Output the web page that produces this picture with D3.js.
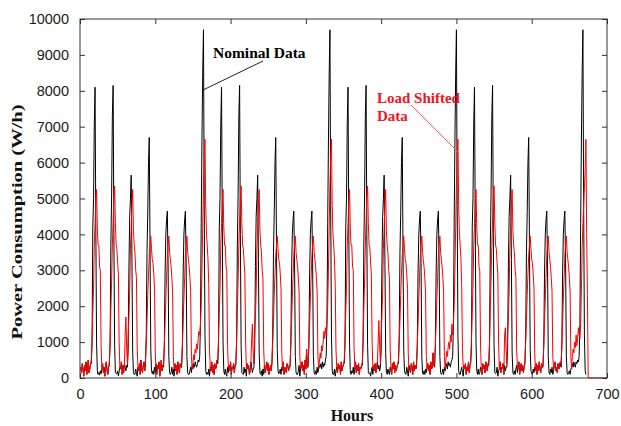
<!DOCTYPE html>
<html lang="en">

<head>
    <meta charset="UTF-8">
    <title>Power Consumption</title>
    <script src="https://unpkg.com/d3@7.8.5/dist/d3.min.js"></script>
    <style>
        * {
            margin: 0;
            padding: 0;
            box-sizing: border-box;
        }

        body {
            background: #fff;
        }

        svg {
            display: block;
        }
    </style>
</head>

<body>
    <svg class="cc" width="621" height="426"></svg>
    <script>
        // 坐标轴刻度
        const xTicks = [0, 100, 200, 300, 400, 500, 600, 700]
        const yTicks = [0, 1000, 2000, 3000, 4000, 5000, 6000, 7000, 8000, 9000, 10000]

        // Nominal data, one row per day (24 hours)
        const nominalDays = [
            [300, 150, 400, 250, 50, 350, 200, 450, 100, 300, 500, 150, 250, 400, 400, 900, 4200, 5000, 7100, 8100, 4300, 1000, 200, 100],
            [150, 80, 200, 120, 250, 400, 150, 300, 50, 350, 450, 200, 100, 300, 350, 1000, 3700, 5100, 7300, 8150, 4000, 900, 150, 120],
            [120, 200, 60, 180, 300, 250, 450, 100, 350, 150, 400, 300, 200, 350, 300, 800, 3100, 4500, 5000, 5650, 3300, 700, 150, 100],
            [100, 250, 150, 50, 300, 200, 400, 100, 500, 250, 150, 350, 450, 200, 400, 1200, 3500, 4600, 6000, 6700, 3700, 800, 200, 120],
            [200, 100, 300, 150, 400, 100, 350, 250, 450, 50, 300, 500, 200, 350, 300, 900, 2900, 4000, 4400, 4650, 3200, 600, 150, 100],
            [150, 300, 100, 250, 50, 400, 200, 350, 100, 450, 250, 150, 400, 300, 300, 900, 2900, 4000, 4400, 4650, 3200, 600, 150, 100],
            [100, 200, 300, 150, 350, 250, 400, 300, 450, 350, 300, 400, 500, 450, 600, 1500, 4300, 6600, 8500, 9700, 4800, 1200, 200, 100],
            [150, 100, 250, 50, 300, 200, 450, 150, 350, 100, 400, 250, 300, 500, 400, 900, 4200, 5000, 7100, 8100, 4300, 1000, 200, 100],
            [250, 100, 50, 300, 150, 350, 200, 450, 100, 300, 250, 400, 150, 350, 350, 1000, 3700, 5100, 7300, 8150, 4000, 900, 150, 120],
            [100, 300, 150, 250, 50, 400, 250, 350, 100, 200, 450, 300, 150, 250, 300, 800, 3100, 4500, 5000, 5650, 3300, 700, 150, 100],
            [200, 50, 250, 100, 350, 150, 300, 450, 200, 400, 100, 250, 350, 200, 400, 1200, 3500, 4600, 6000, 6700, 3700, 800, 200, 120],
            [150, 250, 100, 300, 200, 450, 100, 300, 250, 150, 400, 350, 200, 300, 300, 900, 2900, 4000, 4400, 4650, 3200, 600, 150, 100],
            [100, 200, 350, 50, 250, 300, 450, 200, 350, 100, 500, 250, 800, 300, 300, 900, 2900, 4000, 4400, 4650, 3200, 600, 150, 100],
            [200, 100, 300, 150, 250, 350, 300, 400, 250, 450, 300, 400, 350, 500, 600, 1500, 4300, 6600, 8500, 9700, 4800, 1200, 200, 100],
            [100, 250, 50, 200, 300, 150, 400, 250, 350, 100, 450, 200, 300, 400, 400, 900, 4200, 5000, 7100, 8100, 4300, 1000, 200, 100],
            [200, 150, 300, 100, 250, 450, 150, 350, 200, 400, 100, 300, 250, 350, 350, 1000, 3700, 5100, 7300, 8150, 4000, 900, 150, 120],
            [150, 50, 200, 300, 100, 350, 200, 400, 150, 300, 450, 250, 350, 200, 300, 800, 3100, 4500, 5000, 5650, 3300, 700, 150, 100],
            [250, 150, 100, 300, 200, 100, 400, 250, 450, 150, 350, 200, 300, 400, 400, 1200, 3500, 4600, 6000, 6700, 3700, 800, 200, 120],
            [100, 300, 200, 50, 350, 250, 150, 400, 300, 100, 450, 200, 350, 250, 300, 900, 2900, 4000, 4400, 4650, 3200, 600, 150, 100],
            [200, 100, 250, 150, 300, 400, 200, 350, 100, 450, 250, 300, 700, 350, 300, 900, 2900, 4000, 4400, 4650, 3200, 600, 150, 100],
            [150, 250, 100, 300, 200, 300, 400, 250, 450, 350, 400, 300, 450, 500, 600, 1500, 4300, 6600, 8500, 9700, 4800, 1200, 200, 100],
            [100, 200, 300, 150, 50, 350, 250, 400, 100, 300, 200, 450, 150, 350, 400, 900, 4200, 5000, 7100, 8100, 4300, 1000, 200, 100],
            [250, 100, 150, 300, 200, 100, 400, 250, 350, 150, 450, 300, 200, 400, 350, 1000, 3700, 5100, 7300, 8150, 4000, 900, 150, 120],
            [150, 300, 50, 200, 250, 450, 150, 300, 250, 400, 100, 350, 200, 300, 300, 800, 3100, 4500, 5000, 5650, 3300, 700, 150, 100],
            [200, 100, 250, 350, 150, 300, 450, 100, 250, 400, 200, 350, 150, 300, 400, 1200, 3500, 4600, 6000, 6700, 3700, 800, 200, 120],
            [100, 250, 150, 300, 200, 400, 100, 350, 200, 450, 250, 150, 400, 300, 300, 900, 2900, 4000, 4400, 4650, 3200, 600, 150, 100],
            [250, 150, 300, 100, 200, 350, 450, 200, 300, 150, 400, 250, 350, 450, 300, 900, 2900, 4000, 4400, 4650, 3200, 600, 150, 100],
            [150, 200, 100, 250, 300, 400, 300, 450, 350, 300, 450, 400, 500, 450, 600, 1500, 4300, 6600, 8500, 9700, 4800, 1200, 200, 100]
        ]

        // Load shifted data, one row per day, last row = hours 673..700
        const shiftedDays = [
            [300, 150, 400, 250, 50, 350, 200, 450, 100, 300, 500, 150, 250, 400, 500, 1100, 1800, 2500, 3700, 4300, 4900, 5250, 4200, 3700],
            [3700, 3100, 3000, 900, 300, 400, 150, 300, 50, 350, 450, 200, 100, 300, 450, 1000, 1900, 2700, 3700, 4400, 5000, 5350, 4300, 3700],
            [3600, 3200, 2900, 1000, 250, 250, 450, 100, 350, 150, 400, 1200, 1700, 800, 400, 1200, 1700, 2400, 3600, 4200, 4800, 5250, 4100, 3700],
            [3500, 3000, 2800, 800, 300, 200, 400, 100, 500, 250, 150, 350, 450, 200, 500, 1000, 1600, 2300, 2900, 3400, 3700, 3950, 3600, 3300],
            [3200, 2900, 2500, 700, 200, 100, 350, 250, 450, 50, 300, 500, 200, 350, 400, 900, 1500, 2200, 2800, 3400, 3700, 3950, 3500, 3300],
            [3100, 2800, 2400, 600, 250, 400, 200, 350, 100, 450, 250, 150, 400, 300, 400, 900, 1500, 2200, 2800, 3400, 3700, 3950, 3500, 3300],
            [3100, 2800, 2400, 600, 250, 400, 650, 500, 800, 700, 950, 800, 1100, 1300, 1200, 1500, 2000, 3000, 4200, 5400, 6200, 6650, 4800, 4000],
            [3700, 3300, 2600, 800, 300, 200, 450, 150, 350, 100, 400, 250, 300, 500, 500, 1100, 1800, 2500, 3700, 4300, 4900, 5250, 4200, 3700],
            [3700, 3100, 3000, 900, 300, 350, 200, 450, 100, 300, 250, 400, 150, 350, 450, 1000, 1900, 2700, 3700, 4400, 5000, 5350, 4300, 3700],
            [3600, 3200, 2900, 1000, 250, 400, 250, 350, 100, 200, 450, 1100, 1500, 700, 400, 1200, 1700, 2400, 3600, 4200, 4800, 5250, 4100, 3700],
            [3500, 3000, 2800, 800, 300, 150, 300, 450, 200, 400, 100, 250, 350, 200, 500, 1000, 1600, 2300, 2900, 3400, 3700, 3950, 3600, 3300],
            [3200, 2900, 2500, 700, 200, 450, 100, 300, 250, 150, 400, 350, 200, 300, 400, 900, 1500, 2200, 2800, 3400, 3700, 3950, 3500, 3300],
            [3100, 2800, 2400, 600, 250, 300, 450, 200, 350, 100, 500, 250, 800, 300, 400, 900, 1500, 2200, 2800, 3400, 3700, 3950, 3500, 3300],
            [3100, 2800, 2400, 600, 250, 450, 700, 550, 900, 750, 1000, 1300, 1100, 1400, 1200, 1500, 2000, 3000, 4200, 5400, 6200, 6650, 4800, 4000],
            [3700, 3300, 2600, 800, 300, 150, 400, 250, 350, 100, 450, 200, 300, 400, 500, 1100, 1800, 2500, 3700, 4300, 4900, 5250, 4200, 3700],
            [3700, 3100, 3000, 900, 300, 450, 150, 350, 200, 400, 100, 300, 250, 350, 450, 1000, 1900, 2700, 3700, 4400, 5000, 5350, 4300, 3700],
            [3600, 3200, 2900, 1000, 250, 350, 200, 400, 150, 300, 450, 1000, 1600, 900, 400, 1200, 1700, 2400, 3600, 4200, 4800, 5250, 4100, 3700],
            [3500, 3000, 2800, 800, 300, 100, 400, 250, 450, 150, 350, 200, 300, 400, 500, 1000, 1600, 2300, 2900, 3400, 3700, 3950, 3600, 3300],
            [3200, 2900, 2500, 700, 200, 250, 150, 400, 300, 100, 450, 200, 350, 250, 400, 900, 1500, 2200, 2800, 3400, 3700, 3950, 3500, 3300],
            [3100, 2800, 2400, 600, 250, 400, 200, 350, 100, 450, 250, 300, 700, 350, 400, 900, 1500, 2200, 2800, 3400, 3700, 3950, 3500, 3300],
            [3100, 2800, 2400, 600, 250, 500, 750, 600, 850, 1000, 800, 1200, 1000, 1500, 1200, 1500, 2000, 3000, 4200, 5400, 6200, 6650, 4800, 4000],
            [3700, 3300, 2600, 800, 300, 350, 250, 400, 100, 300, 200, 450, 150, 350, 500, 1100, 1800, 2500, 3700, 4300, 4900, 5250, 4200, 3700],
            [3700, 3100, 3000, 900, 300, 100, 400, 250, 350, 150, 450, 300, 200, 400, 450, 1000, 1900, 2700, 3700, 4400, 5000, 5350, 4300, 3700],
            [3600, 3200, 2900, 1000, 250, 450, 150, 300, 250, 400, 100, 1200, 1400, 800, 400, 1200, 1700, 2400, 3600, 4200, 4800, 5250, 4100, 3700],
            [3500, 3000, 2800, 800, 300, 300, 450, 100, 250, 400, 200, 350, 150, 300, 500, 1000, 1600, 2300, 2900, 3400, 3700, 3950, 3600, 3300],
            [3200, 2900, 2500, 700, 200, 400, 100, 350, 200, 450, 250, 150, 400, 300, 400, 900, 1500, 2200, 2800, 3400, 3700, 3950, 3500, 3300],
            [3100, 2800, 2400, 600, 250, 350, 450, 200, 300, 150, 400, 250, 350, 450, 400, 900, 1500, 2200, 2800, 3400, 3700, 3950, 3500, 3300],
            [3100, 2800, 2400, 600, 250, 600, 800, 700, 1000, 850, 1200, 900, 1100, 1400, 1200, 1100, 1500, 2400, 3600, 4300, 4800, 5300, 5800, 6650],
            [4000, 2300, 0, 0, 0, 0, 0, 0, 0, 0, 0, 0, 0, 0, 0, 0, 0, 0, 0, 0, 0, 0, 0, 0, 0, 0, 0, 0]
        ]

        const nominal = nominalDays.flat()
        const shifted = shiftedDays.flat()

        const width = 621
        const height = 426
        const margin = { top: 19, right: 14, bottom: 48, left: 80 }

        const svg = d3.select('svg')

        const x = d3.scaleLinear()
            .domain([0, 700])
            .range([margin.left, width - margin.right])

        const y = d3.scaleLinear()
            .domain([0, 10000])
            .range([height - margin.bottom, margin.top])

        const tickFont = '"Liberation Sans", Arial, sans-serif'
        const labelFont = '"Liberation Serif", "Times New Roman", serif'

        // 曲线 (hour = index + 1)
        const line = d3.line()
            .x((d, i) => x(i + 1))
            .y(d => y(d))

        const plot = svg.append('g').attr('class', 'plot')

        plot.append('path')
            .datum(nominal)
            .attr('fill', 'none')
            .attr('stroke', '#000')
            .attr('stroke-width', 1)
            .attr('d', line)

        plot.append('path')
            .datum(shifted)
            .attr('fill', 'none')
            .attr('stroke', '#ff0000')
            .attr('stroke-width', 1)
            .attr('d', line)

        // 坐标轴，刻度朝内
        const axisColor = '#333'
        const bottom = height - margin.bottom
        const right = width - margin.right

        function styleAxis(g, showText) {
            g.select('.domain').remove()
            g.selectAll('.tick line').attr('stroke', axisColor)
            g.selectAll('.tick text')
                .attr('fill', '#1a1a1a')
                .style('font-family', tickFont)
                .style('font-size', '14.5px')
            if (!showText) g.selectAll('.tick text').remove()
        }

        svg.append('g')
            .attr('transform', `translate(0,${bottom})`)
            .call(d3.axisBottom(x).tickValues(xTicks).tickSizeInner(-5).tickSizeOuter(0).tickPadding(11))
            .call(g => styleAxis(g, true))

        svg.append('g')
            .attr('transform', `translate(0,${margin.top})`)
            .call(d3.axisTop(x).tickValues(xTicks).tickSizeInner(-5).tickSizeOuter(0))
            .call(g => styleAxis(g, false))

        svg.append('g')
            .attr('transform', `translate(${margin.left},0)`)
            .call(d3.axisLeft(y).tickValues(yTicks).tickSizeInner(-5).tickSizeOuter(0).tickPadding(11).tickFormat(d3.format('d')))
            .call(g => styleAxis(g, true))

        svg.append('g')
            .attr('transform', `translate(${right},0)`)
            .call(d3.axisRight(y).tickValues(yTicks).tickSizeInner(-5).tickSizeOuter(0))
            .call(g => styleAxis(g, false))

        // 外框
        svg.append('rect')
            .attr('x', margin.left)
            .attr('y', margin.top)
            .attr('width', right - margin.left)
            .attr('height', bottom - margin.top)
            .attr('fill', 'none')
            .attr('stroke', axisColor)
            .attr('stroke-width', 1)

        // 轴标题
        svg.append('text')
            .attr('x', 352)
            .attr('y', 421)
            .attr('text-anchor', 'middle')
            .style('font-family', labelFont)
            .style('font-weight', 'bold')
            .style('font-size', '16px')
            .attr('fill', '#111')
            .text('Hours')

        svg.append('text')
            .attr('transform', 'translate(22,222) rotate(-90)')
            .attr('text-anchor', 'middle')
            .attr('textLength', 235)
            .attr('lengthAdjust', 'spacingAndGlyphs')
            .style('font-family', labelFont)
            .style('font-weight', 'bold')
            .style('font-size', '15px')
            .attr('fill', '#111')
            .text('Power Consumption (W/h)')

        // 标注
        svg.append('line')
            .attr('x1', 203).attr('y1', 90)
            .attr('x2', 263).attr('y2', 61)
            .attr('stroke', '#222')
            .attr('stroke-width', 1)

        svg.append('text')
            .attr('x', 213)
            .attr('y', 58)
            .style('font-family', labelFont)
            .style('font-weight', 'bold')
            .style('font-size', '15.5px')
            .attr('fill', '#000')
            .text('Nominal Data')

        svg.append('line')
            .attr('x1', 411).attr('y1', 105)
            .attr('x2', 458).attr('y2', 152)
            .attr('stroke', '#f06a6a')
            .attr('stroke-width', 1)

        const redLabel = svg.append('text')
            .style('font-family', labelFont)
            .style('font-weight', 'bold')
            .style('font-size', '15px')
            .attr('fill', '#f0141e')

        redLabel.append('tspan').attr('x', 377).attr('y', 103).text('Load Shifted')
        redLabel.append('tspan').attr('x', 377).attr('y', 121).text('Data')
    </script>
</body>

</html>
